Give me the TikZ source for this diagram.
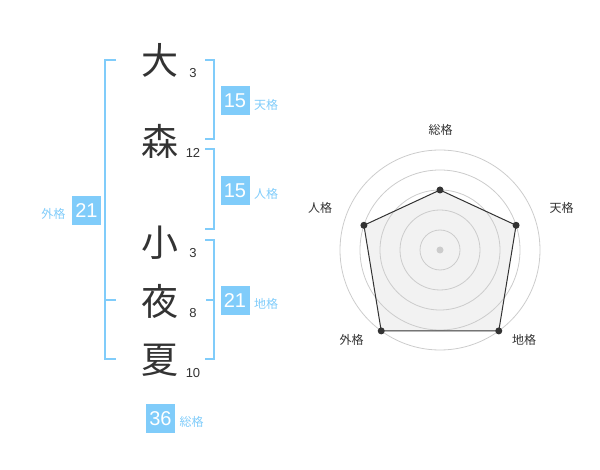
\documentclass[tikz,border=0pt]{standalone}
\usepackage{fontspec}
\usetikzlibrary{calc}
\setmainfont{Liberation Sans}
\newfontfamily\cjk{Noto Sans CJK JP}
\definecolor{skyb}{RGB}{128,204,250}
\definecolor{ink}{RGB}{51,51,51}
\definecolor{ring}{RGB}{204,204,204}
\definecolor{polyfill}{RGB}{242,242,242}
\begin{document}
\begin{tikzpicture}[x=1pt,y=-1pt,
  kanji/.style={font=\cjk\fontsize{37}{37}\selectfont,text=ink,inner sep=0pt},
  strokes/.style={font=\fontsize{13}{13}\selectfont,text=ink,inner sep=0pt},
  valbox/.style={fill=skyb,text=white,minimum width=29pt,minimum height=29pt,inner sep=0pt,font=\fontsize{20}{20}\selectfont},
  kaku/.style={text=skyb,font=\cjk\fontsize{12}{12}\selectfont,inner sep=0pt},
  brk/.style={draw=skyb,line width=2pt},
  rlab/.style={text=ink,font=\cjk\fontsize{12}{12}\selectfont,inner sep=0pt},
  ringline/.style={draw=ring,line width=0.8pt},
  vdot/.style={circle,fill=ink,minimum size=7pt,inner sep=0pt}]
\useasboundingbox (0,0) rectangle (600,470);
% characters
\node[kanji] (k1) at (160,60) {大};
\node[kanji] (k2) at (160,141) {森};
\node[kanji] (k3) at (160,243) {小};
\node[kanji] (k4) at (160,301) {夜};
\node[kanji] (k5) at (160,360) {夏};
\node[strokes] (s1) at (193,73) {3};
\node[strokes] (s2) at (193,153) {12};
\node[strokes] (s3) at (193,253) {3};
\node[strokes] (s4) at (193,313) {8};
\node[strokes] (s5) at (193,373) {10};
% brackets
\draw[brk] (205,60) -- (214,60) -- (214,139) -- (205,139);
\draw[brk] (205,149) -- (214,149) -- (214,229) -- (205,229);
\draw[brk] (205,240) -- (214,240) -- (214,359) -- (205,359);
\draw[brk] (206,300) -- (214,300);
\draw[brk] (116,60) -- (105,60) -- (105,359) -- (116,359);
\draw[brk] (105,300) -- (116,300);
% value boxes
\node[valbox] (ten) at (235,100.5) {15};
\node[kaku] (tenl) at (266,105) {天格};
\node[valbox] (jin) at (235,190.5) {15};
\node[kaku] (jinl) at (266,194) {人格};
\node[valbox] (chi) at (235,300.5) {21};
\node[kaku] (chil) at (266,304) {地格};
\node[valbox] (gai) at (86.5,210.5) {21};
\node[kaku] (gail) at (53.5,214) {外格};
\node[valbox] (sou) at (160.5,418.5) {36};
\node[kaku] (soul) at (191.5,422) {総格};
% radar
\coordinate (c) at (440,250);
\coordinate (v1) at ($(c)+(-90:60)$);
\coordinate (v2) at ($(c)+(-18:80)$);
\coordinate (v3) at ($(c)+(54:100)$);
\coordinate (v4) at ($(c)+(126:100)$);
\coordinate (v5) at ($(c)+(198:80)$);
\fill[polyfill] (v1) -- (v2) -- (v3) -- (v4) -- (v5) -- cycle;
\foreach \r in {20,40,60,80,100} \draw[ringline] (c) circle (\r);
\draw[draw=ink,line width=1pt,line join=round] (v1) -- (v2) -- (v3) -- (v4) -- (v5) -- cycle;
\node[circle,fill=ring,minimum size=7pt,inner sep=0pt] (cd) at (c) {};
\foreach \v in {v1,v2,v3,v4,v5} \node[vdot] at (\v) {};
\node[rlab] (l1) at (440.7,130) {総格};
\node[rlab] (l2) at (561.7,208) {天格};
\node[rlab] (l3) at (524,340) {地格};
\node[rlab] (l4) at (351.7,340) {外格};
\node[rlab] (l5) at (320,208) {人格};
\end{tikzpicture}
\end{document}
